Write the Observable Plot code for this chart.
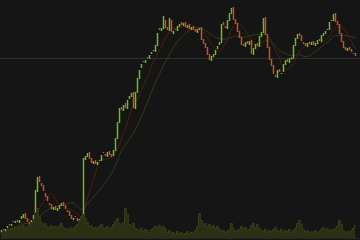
<!DOCTYPE html>
<html><head><meta charset="utf-8">
<script src="https://cdn.jsdelivr.net/npm/d3@7"></script>
<script src="https://cdn.jsdelivr.net/npm/@observablehq/plot@0.6"></script>
<style>
html,body{margin:0;padding:0;background:#111111;overflow:hidden;}
#wrap{position:relative;width:360px;height:240px;}
#wrap svg{position:absolute;left:0;top:0;}
</style></head><body>
<div id="wrap"></div>
<script>
const closes = [10,8,11,14,15,16,18,19,18,20,24,26,21,18,14,20,25,50,63,58,54,49,43,39,35,31,33,30,32,35,37,34,31,28,24,21,22,23,19,21,22,82,84,87,81,77,79,76,78,80,85,87,84,88,85,83,90,102,118,132,130,135,132,140,144,147,132,148,162,170,176,178,180,182,185,188,190,195,207,210,212,224,212,210,222,208,209,210,214,216,215,217,213,215,211,213,210,208,211,212,200,196,192,185,180,184,186,190,194,198,216,215,212,220,227,232,220,216,208,202,195,194,198,196,199,186,192,196,194,204,208,222,205,192,180,174,166,163,170,168,167,176,180,178,182,180,195,202,206,204,199,196,194,197,196,198,195,197,200,199,205,207,209,211,218,220,226,218,215,206,198,192,190,192,190,188,186,184];
const opens = [7,11,8,12,16,14,19,17,20,17,21,22,27,22,18,13,21,25,48,64,57,55,47,44,37,36,30,34,29,31,34,38,35,30,29,25,20,24,22,18,20,24,80,83,88,82,76,80,75,79,79,88,86,83,89,86,84,89,101,117,133,129,137,131,141,143,148,131,147,161,172,179,177,183,181,186,189,188,194,212,209,211,220,213,209,220,206,211,209,213,218,214,218,212,216,210,214,211,207,210,213,201,197,193,186,179,183,185,191,195,197,218,214,211,219,226,233,221,217,209,203,196,193,199,195,200,185,191,197,193,203,207,223,206,193,181,175,165,162,171,166,168,175,181,177,183,181,194,201,207,205,198,197,193,198,195,199,194,196,201,198,204,206,210,210,219,219,227,219,216,207,199,193,189,193,191,187,187];
const volumes = [6,8,7,9,8,10,9,11,10,12,11,13,10,12,14,16,18,26,30,22,16,13,15,12,10,13,11,12,10,13,15,11,9,10,8,11,9,12,14,18,22,24,20,16,12,13,10,11,9,12,14,11,10,12,9,11,14,17,20,15,13,16,30,24,14,12,15,10,9,8,10,7,9,8,6,9,10,12,11,13,10,12,9,6,8,5,6,4,7,5,6,4,5,7,4,6,5,8,12,25,18,13,15,12,14,11,13,10,12,9,7,8,6,7,9,15,10,7,8,9,12,10,11,8,9,13,15,11,14,10,8,7,9,6,8,7,9,11,8,7,9,6,8,7,9,6,8,10,15,18,14,9,7,8,6,7,5,8,6,7,9,11,8,10,7,9,8,10,12,18,14,8,6,7,5,8,10,13];
const levels = [182];

const n = closes.length;
const candles = closes.map((c, i) => ({i, open: opens[i], close: c, vol: volumes[i]}));
const idx = d3.range(n + 2);

const W = 360, H = 240;
const xDomain = [-0.5, 179.5];

const price = Plot.plot({
  width: W, height: H, margin: 0,
  style: {background: "transparent"},
  x: {domain: xDomain, axis: null},
  y: {domain: [0, 240], axis: null},
  marks: [
    Plot.ruleX(idx, {x: d => d - 0.25, stroke: "#1b1b1b", strokeWidth: 1}),
    Plot.ruleY(levels, {stroke: "#2e2e2e", strokeWidth: 1}),
    Plot.lineY(candles, Plot.windowY({k: 20, anchor: "end"}, {x: "i", y: "close", stroke: "#363b1c", strokeWidth: 1})),
    Plot.lineY(candles, Plot.windowY({k: 9, anchor: "end"}, {x: "i", y: "close", stroke: "#4a2014", strokeWidth: 1})),
    Plot.ruleX(candles, {x: "i", y1: "open", y2: "close",
      stroke: d => d.close >= d.open ? "#72b81f" : "#cf4f1b", strokeWidth: 1.5})
  ]
});

const vol = Plot.plot({
  width: W, height: H, marginTop: 2, marginBottom: 2, marginLeft: 0, marginRight: 0,
  style: {background: "transparent"},
  x: {domain: xDomain, axis: null},
  y: {domain: [0, 236], axis: null},
  marks: [
    Plot.areaY(candles, {x: "i", y: "vol", fill: "#2b3015", curve: "step"}),
    Plot.lineY(candles, {x: "i", y: "vol", stroke: "#383f1d", strokeWidth: 0.8, curve: "step"}),
    Plot.ruleY([0], {stroke: "#262626"})
  ]
});

const wrap = document.getElementById("wrap");
wrap.appendChild(price);
wrap.appendChild(vol);
</script>
</body></html>
